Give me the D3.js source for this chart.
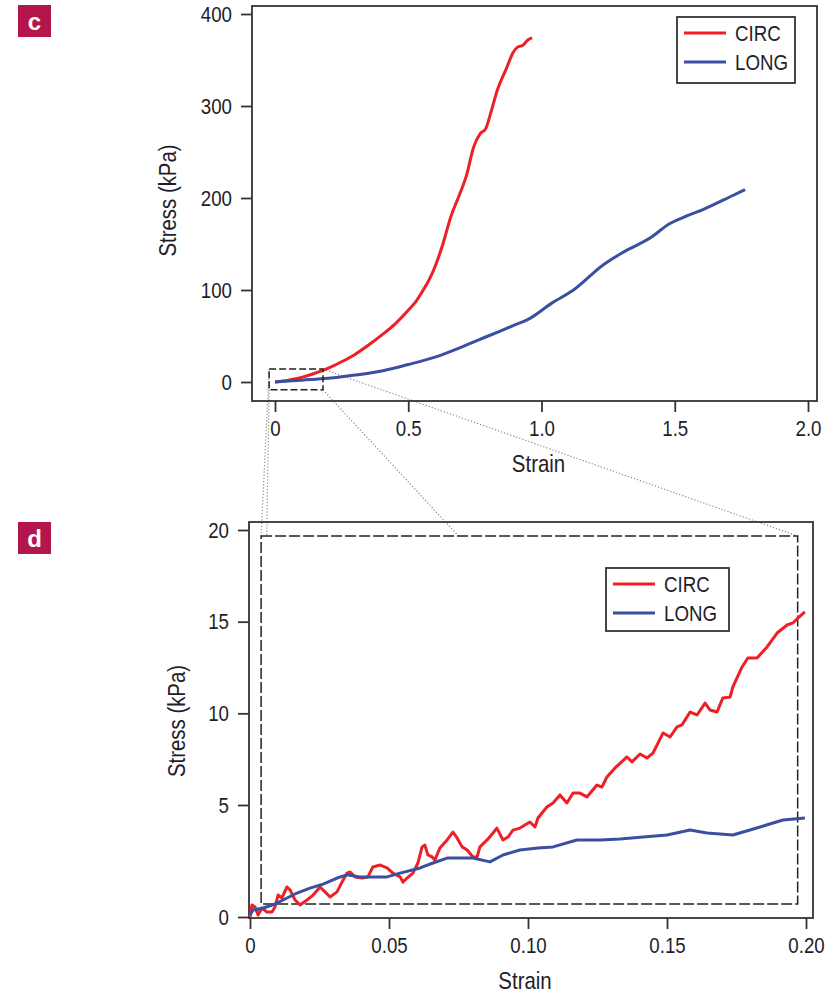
<!DOCTYPE html>
<html lang="en">
<head>
<meta charset="UTF-8">
<script src="https://d3js.org/d3.v7.min.js"></script>
<title>Stress-strain</title>
<style>
  body { margin: 0; background: #fff; }
  svg text { font-family: "Liberation Sans", Arial, sans-serif; fill: #1e1e2a; }
</style>
</head>
<body>
<div id="chart"></div>
<script>
// ---- data ----
const seriesNames = ["CIRC", "LONG"];

// panel c: full range, [strain, stress kPa]
const circFull = [[0,0],[0.05,2],[0.1,5],[0.15,9.5],[0.2,15],[0.25,22],[0.3,30],[0.35,40],[0.4,51],
  [0.45,63],[0.5,78],[0.53,88],[0.55,97],[0.58,112],[0.6,125],[0.63,150],[0.66,180],[0.69,202],
  [0.72,226],[0.745,255],[0.77,270],[0.79,275],[0.81,293],[0.835,318],[0.87,342],[0.893,358],
  [0.91,364],[0.93,366],[0.95,372],[0.965,374]];
const longFull = [[0,0],[0.1,2],[0.2,4],[0.3,7.5],[0.4,12],[0.5,19],[0.6,27],[0.7,38],[0.8,50],
  [0.9,62],[0.95,68],[1.04,86],[1.12,100],[1.23,127],[1.3,140],[1.41,157],[1.48,172],[1.55,181],
  [1.61,188],[1.72,203],[1.764,209]];

// panel d: zoomed range
const circZoom = [[0,0],[0.0007,0.54],[0.0018,0.45],[0.0029,0.09],[0.0043,0.40],[0.0061,0.22],
  [0.0079,0.22],[0.0090,0.45],[0.0101,0.98],[0.0115,0.85],[0.0133,1.34],[0.0144,1.21],[0.0162,0.76],
  [0.0180,0.54],[0.0205,0.76],[0.0227,0.98],[0.0252,1.34],[0.0270,1.12],[0.0288,0.89],[0.0313,1.12],
  [0.0331,1.56],[0.0349,1.96],[0.0360,2.01],[0.0378,1.79],[0.0403,1.74],[0.0424,1.79],[0.0442,2.23],
  [0.0468,2.32],[0.0493,2.19],[0.0514,1.96],[0.0540,1.79],[0.0550,1.56],[0.0565,1.74],[0.0586,1.96],
  [0.0604,2.41],[0.0619,3.13],[0.0629,3.21],[0.0640,2.77],[0.0655,2.68],[0.0665,2.54],[0.0683,3.08],
  [0.0709,3.44],[0.0730,3.79],[0.0745,3.53],[0.0763,3.13],[0.0781,2.99],[0.0802,2.68],[0.0817,2.68],
  [0.0827,3.13],[0.0853,3.44],[0.0874,3.75],[0.0888,3.97],[0.0910,3.44],[0.0928,3.57],[0.0946,3.88],
  [0.0971,3.97],[0.0989,4.11],[0.1007,4.24],[0.1025,4.02],[0.1036,4.42],[0.1068,4.91],[0.1090,5.11],
  [0.1115,5.55],[0.1140,5.11],[0.1162,5.65],[0.1187,5.65],[0.1212,5.44],[0.1248,6.09],[0.1266,5.98],
  [0.1284,6.53],[0.1313,7.02],[0.1356,7.62],[0.1374,7.35],[0.1403,7.78],[0.1428,7.56],[0.1450,7.84],
  [0.1486,8.93],[0.1511,8.71],[0.1536,9.26],[0.1554,9.37],[0.1583,10.07],[0.1608,9.91],[0.1637,10.56],
  [0.1655,10.18],[0.1680,10.07],[0.1701,10.84],[0.1727,10.89],[0.1737,11.44],[0.1770,12.53],
  [0.1791,13.02],[0.1824,13.02],[0.1860,13.62],[0.1896,14.38],[0.1932,14.82],[0.1953,14.93],
  [0.1971,15.20],[0.1996,15.53]];
const longZoom = [[0,0.09],[0.0011,0.31],[0.0047,0.40],[0.0083,0.54],[0.0119,0.76],[0.0169,1.07],
  [0.0216,1.29],[0.0263,1.47],[0.0313,1.74],[0.0349,1.88],[0.0396,1.79],[0.0442,1.79],[0.0493,1.79],
  [0.0540,1.96],[0.0612,2.19],[0.0658,2.41],[0.0709,2.63],[0.0755,2.63],[0.0802,2.63],[0.0863,2.46],
  [0.0910,2.77],[0.0971,2.99],[0.1036,3.08],[0.1090,3.13],[0.1176,3.44],[0.1259,3.44],[0.1331,3.48],
  [0.1414,3.57],[0.1500,3.66],[0.1583,3.88],[0.1644,3.75],[0.1737,3.66],[0.1835,4.02],[0.1917,4.33],
  [0.1996,4.42]];

const xTicksFull = [0, 0.5, 1.0, 1.5, 2.0];
const xTickLabelsFull = ["0", "0.5", "1.0", "1.5", "2.0"];
const yTicksFull = [0, 100, 200, 300, 400];
const xTicksZoom = [0, 0.05, 0.10, 0.15, 0.20];
const xTickLabelsZoom = ["0", "0.05", "0.10", "0.15", "0.20"];
const yTicksZoom = [0, 5, 10, 15, 20];

// zoom window drawn on panel c, and its outline inside panel d
const zoomWindow = { x: [-0.022, 0.18], y: [-8.5, 14] };
const zoomOutline = { x: [0.004, 0.197], y: [0.58, 19.67] };

// ---- layout ----
const W = 838, H = 993;
const red = "#ee1f26", blue = "#3a4f9f", frame = "#333";
const narrow = 0.85; // condensed look: horizontal squeeze of text
const pc = { left: 252, right: 817, top: 6, bottom: 401 };
const pd = { left: 249, right: 813, top: 522, bottom: 918 };

const svg = d3.select("#chart").append("svg").attr("width", W).attr("height", H);

const xc = d3.scaleLinear().domain([0, 2]).range([275, 808]);
const yc = d3.scaleLinear().domain([0, 400]).range([382, 14]);
const xd = d3.scaleLinear().domain([0, 0.2]).range([250, 806]);
const yd = d3.scaleLinear().domain([0, 5, 20]).range([917, 805, 530]);

// connector lines between zoom window and panel d
const conn = svg.append("g").attr("stroke", "#8a8a8a").attr("stroke-width", 1.2)
  .attr("stroke-dasharray", "1.2,2").attr("fill", "none");
const links = [
  [[zoomWindow.x[0], zoomWindow.y[1]], [zoomOutline.x[0], zoomOutline.y[1]]],
  [[zoomWindow.x[0], zoomWindow.y[0]], [0.006, zoomOutline.y[1]]],
  [[zoomWindow.x[1], zoomWindow.y[0]], [0.075, zoomOutline.y[1]]],
  [[zoomWindow.x[1], zoomWindow.y[1]], [zoomOutline.x[1], zoomOutline.y[1]]]
];
links.forEach(l => {
  conn.append("line")
    .attr("x1", xc(l[0][0])).attr("y1", yc(l[0][1]))
    .attr("x2", xd(l[1][0])).attr("y2", yd(l[1][1]));
});

function label(g, x, y, txt, size, extra) {
  return g.append("text")
    .attr("transform", `translate(${x},${y}) ${extra || ""} scale(${narrow},1)`)
    .style("font-size", size + "px").text(txt);
}

function panel(p, x, y, xTicks, xLabels, yTicks, series, legend, tag, tagY, curve) {
  const g = svg.append("g");
  g.append("rect")
    .attr("x", p.left).attr("y", p.top)
    .attr("width", p.right - p.left).attr("height", p.bottom - p.top)
    .attr("fill", "none").attr("stroke", frame).attr("stroke-width", 1.8);

  const xAxis = g.append("g").attr("transform", `translate(0,${p.bottom})`)
    .call(d3.axisBottom(x).tickValues(xTicks).tickSize(11).tickFormat((d, i) => xLabels[i]));
  const yAxis = g.append("g").attr("transform", `translate(${p.left},0)`)
    .call(d3.axisLeft(y).tickValues(yTicks).tickSize(11).tickFormat(d3.format("d")));
  [xAxis, yAxis].forEach(a => {
    a.select(".domain").remove();
    a.selectAll(".tick line").attr("stroke", frame).attr("stroke-width", 1.8);
    a.selectAll(".tick text").style("font-size", "22px").attr("fill", "#1e1e2a")
      .attr("transform", `scale(${narrow},1)`);
  });
  xAxis.selectAll(".tick text").attr("y", 19).attr("dy", "0.71em");
  yAxis.selectAll(".tick text").attr("x", -20 / narrow);

  label(g, (x.range()[0] + x.range()[1]) / 2 - 3, p.bottom + 71, "Strain", 24)
    .attr("text-anchor", "middle");
  label(g, tag.labelX, (p.top + p.bottom) / 2 + tag.labelDy, "Stress (kPa)", 24, "rotate(-90)")
    .attr("text-anchor", "middle");

  const line = d3.line().curve(curve).x(d => x(d[0])).y(d => y(d[1]));
  series.forEach(s => {
    g.append("path").datum(s.data).attr("d", line)
      .attr("fill", "none").attr("stroke", s.color).attr("stroke-width", 3)
      .attr("stroke-linejoin", "round");
  });

  // legend
  const lg = g.append("g");
  lg.append("rect").attr("x", legend.x).attr("y", legend.y)
    .attr("width", legend.w).attr("height", legend.h)
    .attr("fill", "#fff").attr("stroke", frame).attr("stroke-width", 1.8);
  series.forEach((s, i) => {
    const ly = legend.y + 16 + i * 29;
    lg.append("line").attr("x1", legend.x + 7).attr("x2", legend.x + 49)
      .attr("y1", ly).attr("y2", ly).attr("stroke", s.color).attr("stroke-width", 3);
    label(lg, legend.x + 58, ly, s.name, 22).attr("dy", "0.36em");
  });

  // panel tag
  svg.append("rect").attr("x", 18).attr("y", tagY).attr("width", 33).attr("height", 32)
    .attr("fill", "#b3154c");
  svg.append("text").attr("x", 34.5).attr("y", tagY + 16).attr("dy", "0.36em")
    .attr("text-anchor", "middle")
    .style("font-weight", "bold").style("font-size", "24px").style("fill", "#fff")
    .text(tag.text);
  return g;
}

const gc = panel(pc, xc, yc, xTicksFull, xTickLabelsFull, yTicksFull,
  [{ name: seriesNames[0], data: circFull, color: red }, { name: seriesNames[1], data: longFull, color: blue }],
  { x: 677, y: 17, w: 118, h: 66 }, { text: "c", labelX: 176, labelDy: -3 }, 5, d3.curveMonotoneX);

// zoom window on panel c
gc.append("rect")
  .attr("x", xc(zoomWindow.x[0])).attr("y", yc(zoomWindow.y[1]))
  .attr("width", xc(zoomWindow.x[1]) - xc(zoomWindow.x[0]))
  .attr("height", yc(zoomWindow.y[0]) - yc(zoomWindow.y[1]))
  .attr("fill", "none").attr("stroke", "#222").attr("stroke-width", 1.5)
  .attr("stroke-dasharray", "7,3");

const gd = panel(pd, xd, yd, xTicksZoom, xTickLabelsZoom, yTicksZoom,
  [{ name: seriesNames[0], data: circZoom, color: red }, { name: seriesNames[1], data: longZoom, color: blue }],
  { x: 606, y: 568, w: 123, h: 63 }, { text: "d", labelX: 185, labelDy: 1 }, 522, d3.curveLinear);

// zoom outline inside panel d
gd.insert("rect", "path")
  .attr("x", xd(zoomOutline.x[0])).attr("y", yd(zoomOutline.y[1]))
  .attr("width", xd(zoomOutline.x[1]) - xd(zoomOutline.x[0]))
  .attr("height", yd(zoomOutline.y[0]) - yd(zoomOutline.y[1]))
  .attr("fill", "none").attr("stroke", "#222").attr("stroke-width", 1.5)
  .attr("stroke-dasharray", "11,3");
</script>
</body>
</html>
